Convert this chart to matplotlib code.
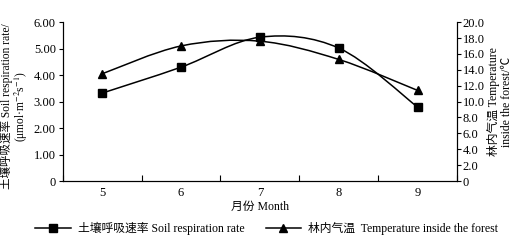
import numpy as np
import matplotlib
matplotlib.use('Agg')
import matplotlib.pyplot as plt
from matplotlib.path import Path
from matplotlib.patches import PathPatch
from matplotlib.lines import Line2D

plt.rcParams['font.family'] = ['Liberation Serif', 'Noto Sans CJK SC']
plt.rcParams['mathtext.fontset'] = 'stix'

# data
months = ['5', '6', '7', '8', '9']
soil_resp = [3.32, 4.30, 5.43, 5.02, 2.79]      # umol m-2 s-1
air_temp = [13.5, 17.0, 17.6, 15.3, 11.4]       # deg C
left_ticks = [0, 1, 2, 3, 4, 5, 6]
right_ticks = [0, 2, 4, 6, 8, 10, 12, 14, 16, 18, 20]


def smooth_path(ax, xs, ys):
    # Excel-style smoothed line: Catmull-Rom segments as cubic Beziers
    pts = np.column_stack([xs, ys]).astype(float)
    verts = [pts[0]]
    codes = [Path.MOVETO]
    n = len(pts)
    for i in range(n - 1):
        p0 = pts[i - 1] if i > 0 else pts[i]
        p1 = pts[i]
        p2 = pts[i + 1]
        p3 = pts[i + 2] if i + 2 < n else pts[i + 1]
        c1 = p1 + (p2 - p0) / 6.0
        c2 = p2 - (p3 - p1) / 6.0
        verts += [c1, c2, p2]
        codes += [Path.CURVE4] * 3
    patch = PathPatch(Path(verts, codes), facecolor='none', edgecolor='black', lw=1.1)
    ax.add_patch(patch)


fig = plt.figure(figsize=(5.23, 2.43), dpi=100)
ax = fig.add_axes([0.120, 0.255, 0.754, 0.654])
ax2 = ax.twinx()

x = np.arange(len(months))

smooth_path(ax, x, soil_resp)
ax.plot(x, soil_resp, ls='none', marker='s', ms=5.8, color='black', zorder=5)
smooth_path(ax2, x, air_temp)
ax2.plot(x, air_temp, ls='none', marker='^', ms=6, color='black', zorder=5)

ax.set_xlim(-0.5, len(months) - 0.5)
ax.set_ylim(0, 6)
ax2.set_ylim(0, 20)

# category boundaries as ticks, labels at centres
ax.set_xticks(np.arange(-0.5, len(months), 1.0))
ax.set_xticklabels([])
ax.set_xticks(x, minor=True)
ax.set_xticklabels(months, minor=True, fontsize=9)
ax.tick_params(axis='x', which='major', direction='in', length=4, width=0.8)
ax.tick_params(axis='x', which='minor', length=0, pad=4)

ax.set_yticks(left_ticks)
ax.set_yticklabels(['0'] + ['%.2f' % v for v in left_ticks[1:]], fontsize=9)
ax.tick_params(axis='y', direction='out', length=3, width=0.8, pad=2)

ax2.set_yticks(right_ticks)
ax2.set_yticklabels(['0'] + ['%.1f' % v for v in right_ticks[1:]], fontsize=9)
ax2.tick_params(axis='y', direction='out', length=3, width=0.8, pad=1)

for a in (ax, ax2):
    a.spines['top'].set_visible(False)
    for s in a.spines.values():
        s.set_linewidth(0.8)

ax.set_xlabel('月份 Month', fontsize=8.5, labelpad=2)
ax.set_ylabel('土壤呼吸速率 Soil respiration rate/\n(μmol·m$^{-2}$s$^{-1}$)',
              fontsize=8.3, linespacing=1.05)
ax.yaxis.set_label_coords(-0.082, 0.47)
ax2.set_ylabel('林内气温 Temperature\ninside the forest/℃', fontsize=8.5,
               rotation=90, labelpad=2, linespacing=1.05)

handles = [Line2D([], [], color='black', marker='s', ms=5.8, lw=1.1),
           Line2D([], [], color='black', marker='^', ms=6, lw=1.1)]
fig.legend(handles, ['土壤呼吸速率 Soil respiration rate',
                     '林内气温  Temperature inside the forest'],
           loc='lower center', bbox_to_anchor=(0.51, -0.01), ncol=2, frameon=False,
           fontsize=8.5, handlelength=3.0, columnspacing=1.8, handletextpad=0.6)

fig.savefig('out.png', dpi=100)
